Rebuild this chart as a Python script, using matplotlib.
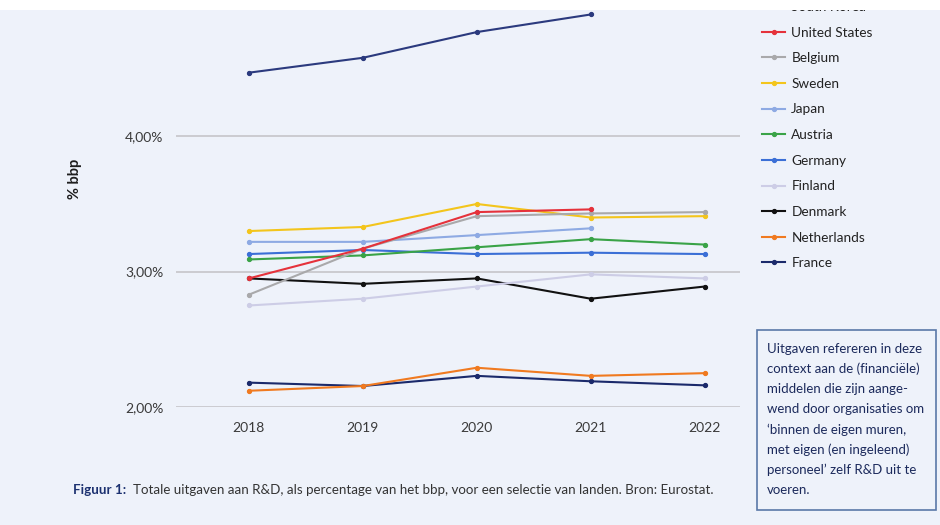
import matplotlib
matplotlib.use("Agg")
import matplotlib.pyplot as plt
from matplotlib.patches import Rectangle
import matplotlib.ticker as mtick

plt.rcParams['font.family'] = ['Lato', 'DejaVu Sans']

years = [2018, 2019, 2020, 2021, 2022]

# % van het bbp per land
south_korea = [4.47, 4.58, 4.77, 4.90, None]
united_states = [2.95, 3.17, 3.44, 3.46, None]
belgium = [2.83, 3.17, 3.41, 3.43, 3.44]
sweden = [3.30, 3.33, 3.50, 3.40, 3.41]
japan = [3.22, 3.22, 3.27, 3.32, None]
austria = [3.09, 3.12, 3.18, 3.24, 3.20]
germany = [3.13, 3.16, 3.13, 3.14, 3.13]
finland = [2.75, 2.80, 2.89, 2.98, 2.95]
denmark = [2.95, 2.91, 2.95, 2.80, 2.89]
netherlands = [2.12, 2.155, 2.29, 2.23, 2.25]
france = [2.18, 2.155, 2.23, 2.19, 2.16]

countries = ['South Korea', 'United States', 'Belgium', 'Sweden', 'Japan', 'Austria',
             'Germany', 'Finland', 'Denmark', 'Netherlands', 'France']
series = [south_korea, united_states, belgium, sweden, japan, austria,
          germany, finland, denmark, netherlands, france]
colors = ['#2b3a7e', '#e5323b', '#a9a9ab', '#f3c51c', '#8eaae3', '#3aa347',
          '#3b6fd6', '#cdcde6', '#111111', '#f07a20', '#1b2a6b']

bg = '#eef2fa'
fig = plt.figure(figsize=(9.4, 5.25), dpi=100, facecolor=bg)
ax = fig.add_axes([176/940, 1-407/525, (740-176)/940, (407-5)/525])
ax.set_facecolor(bg)

lines = {}
for i in reversed(range(len(countries))):
    xs = [x for x, v in zip(years, series[i]) if v is not None]
    ys = [v for v in series[i] if v is not None]
    ln, = ax.plot(xs, ys, color=colors[i], lw=1.5, marker='o', ms=2.8, zorder=3)
    lines[i] = ln
handles = [lines[i] for i in range(len(countries))]

ax.set_xlim(2017.36, 2022.31)
ax.set_ylim(2.0, 4.97)
ax.set_yticks([2, 3, 4])
ax.yaxis.set_major_formatter(mtick.FuncFormatter(lambda v, p: ('%.2f%%' % v).replace('.', ',')))
ax.set_xticks(years)
ax.grid(axis='y', color='#c9c9cd', lw=1.3, zorder=1)
ax.tick_params(length=0, labelsize=10, labelcolor='#3a3a3a')
ax.tick_params(axis='x', pad=11)
ax.tick_params(axis='y', pad=9)
for s in ax.spines.values():
    s.set_visible(False)

fig.text(75/940, 1-179/525, '% bbp', rotation=90, fontsize=10.5, fontweight='bold',
         color='#1e1e1e', ha='center', va='center')

fig.legend(handles, countries, loc='upper left', bbox_to_anchor=(762/940, 1-1/525),
           frameon=False, fontsize=9.8, labelspacing=1.0, handlelength=1.7,
           handletextpad=0.45, borderpad=0, borderaxespad=0, labelcolor='#222222')

# witte rand bovenaan
fig.add_artist(Rectangle((0, 1-10/525), 1, 10/525, transform=fig.transFigure,
                         facecolor='white', edgecolor='none', zorder=20))

fig.text(73/940, 1-490/525, 'Figuur 1:', fontsize=9.6, fontweight='bold',
         color='#1c3170', va='center')
fig.text(133/940, 1-490/525,
         'Totale uitgaven aan R&D, als percentage van het bbp, voor een selectie van landen. Bron: Eurostat.',
         fontsize=9.6, color='#333333', va='center')

fig.add_artist(Rectangle((757/940, 1-510/525), (936-757)/940, 180/525,
                         transform=fig.transFigure, facecolor='none',
                         edgecolor='#5a78a8', lw=1.2, zorder=5))
box_lines = ['Uitgaven refereren in deze', 'context aan de (financiële)',
             'middelen die zijn aange-', 'wend door organisaties om',
             '\u2018binnen de eigen muren,', 'met eigen (en ingeleend)',
             'personeel\u2019 zelf R&D uit te', 'voeren.']
for k, t in enumerate(box_lines):
    fig.text(767/940, 1-(349+20.1*k)/525, t, fontsize=9.5, color='#1c2a5c', va='center')

fig.savefig('out.png', dpi=100, facecolor=bg)
